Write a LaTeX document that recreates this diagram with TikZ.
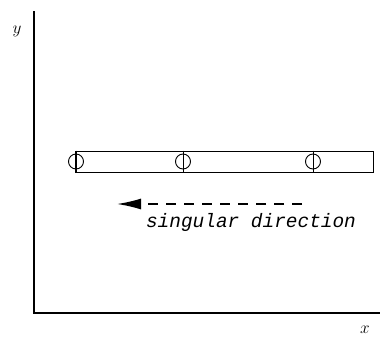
\documentclass[tikz,border=0pt]{standalone}
\usepackage{fontspec}
\newfontfamily\monofont{Liberation Mono}
\usetikzlibrary{arrows.meta,positioning}
\tikzset{
  axis/.style={line width=1.6bp},
  bar/.style={draw,line width=0.9bp,minimum width=298bp,minimum height=21bp,
              inner sep=0pt},
  pin/.style={draw,circle,line width=0.9bp,minimum size=15bp,inner sep=0pt},
  dir/.style={-{Latex[length=24bp,width=11bp]},line width=1.5bp,
              dash pattern=on 10bp off 8bp},
  lbl/.style={font=\monofont\itshape\fontsize{19.5}{21}\selectfont},
  axlbl/.style={font=\fontsize{16}{18}\selectfont},
}
\begin{document}
\begin{tikzpicture}[x=1bp,y=-1bp]
\useasboundingbox (0,0) rectangle (380,338);
% axes
\coordinate (o) at (34,313);
\coordinate (ytop) at (34,11);
\coordinate (xend) at (380,313);
\draw[axis] (ytop) -- (o) -- (xend);
\node[axlbl] (ylbl) at (17,31) {$y$};
\node[axlbl] (xlbl) at (365,330) {$x$};
% beam with three supports
\node[bar] (beam) at (224,161.5) {};
\foreach \n/\x in {a/76, b/183, c/313}{
  \node[pin] (\n) at (\x,161.5) {};
  \draw[line width=0.9bp] (\n |- beam.north) -- (\n |- beam.south);
}
% singular direction
\coordinate (dirstart) at (302,204);
\coordinate (dirend) at (117,204);
\draw[dir] (dirstart) -- (dirend);
\node[lbl] (dirlbl) at (251,222) {singular direction};
\end{tikzpicture}
\end{document}
